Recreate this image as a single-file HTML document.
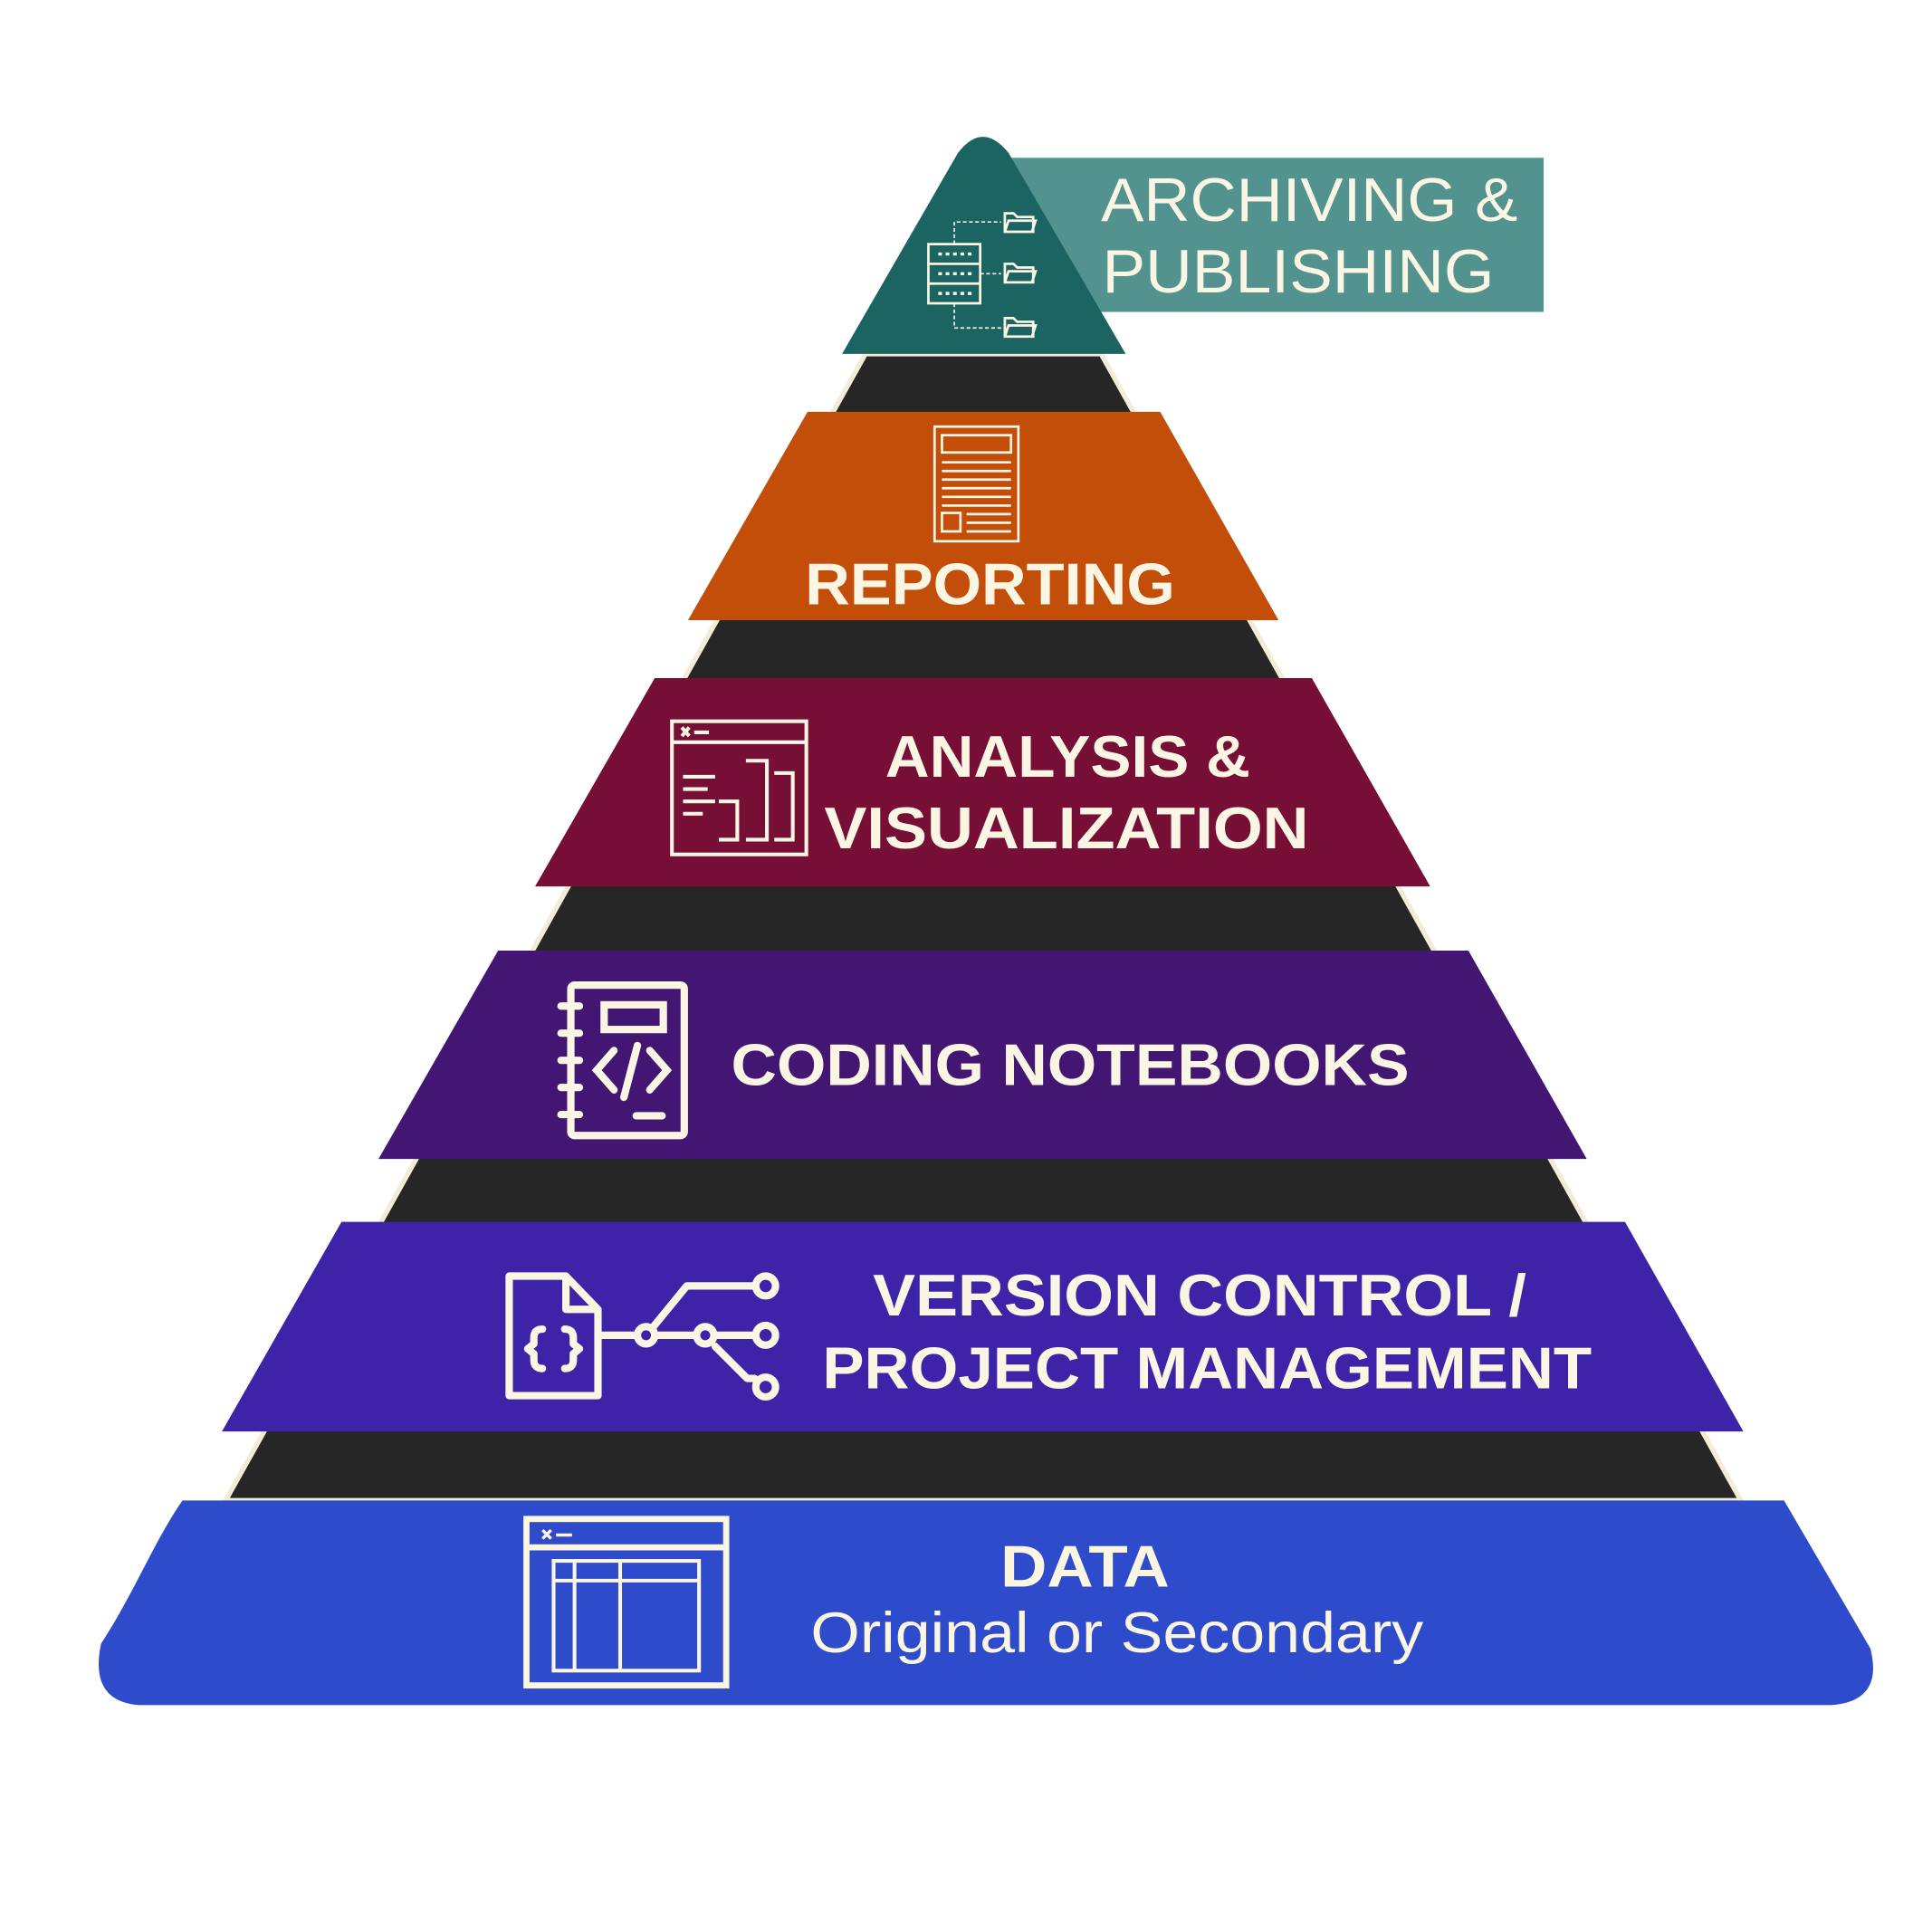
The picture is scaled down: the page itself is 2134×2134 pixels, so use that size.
<!DOCTYPE html>
<html><head><meta charset="utf-8"><style>html,body{margin:0;padding:0;background:#fff}svg{display:block}</style></head>
<body>
<svg width="2134" height="2134" viewBox="0 0 1567 1567" xmlns="http://www.w3.org/2000/svg">
<g font-family="Liberation Sans, sans-serif" fill="#fbf5e3">
<polygon points="702,287 893,287 1412,1217 183,1217" fill="#262626" stroke="#f3ecd6" stroke-width="4"/>
<rect x="820" y="128" width="432" height="125" fill="#52928f"/>
<path d="M683,287 L777,124 Q797,98 818,124 L913,287 Z" fill="#1c6462"/>
<text x="1062" y="179" font-size="50" text-anchor="middle" textLength="338" lengthAdjust="spacingAndGlyphs">ARCHIVING &amp;</text>
<text x="1053" y="237" font-size="50" text-anchor="middle" textLength="318" lengthAdjust="spacingAndGlyphs">PUBLISHING</text>
<g stroke="#fbf5e3" fill="none" stroke-width="2">
<rect x="753" y="198" width="42" height="48"/><line x1="753" y1="214" x2="795" y2="214"/><line x1="753" y1="230" x2="795" y2="230"/>
<path d="M761,206H788M761,222H788M761,238H788" stroke-dasharray="3,3" stroke-width="2.5"/>
<path d="M774,198 V180 H812 M795,222 H812 M774,246 V266 H812" stroke-dasharray="3,2" stroke-width="1.2"/>
<path d="M815,188 V173 H822 L825,176 H838 V188 Z M815,188 L818,179 H840 L837,188"/>
<path d="M815,229 V214 H822 L825,217 H838 V229 Z M815,229 L818,220 H840 L837,229"/>
<path d="M815,273 V258 H822 L825,261 H838 V273 Z M815,273 L818,264 H840 L837,273"/>
</g>
<polygon points="655,334 941,334 1037,503 558,503" fill="#c24e0a"/>
<g stroke="#fbf5e3" fill="none" stroke-width="2">
<rect x="758" y="346" width="68" height="93"/><rect x="764" y="353" width="56" height="14"/>
<path d="M764,375H820M764,382H820M764,389H820M764,396H820M764,403H820M764,410H820M784,417H820M784,424H820M784,431H820"/>
<rect x="764" y="416" width="15" height="15"/>
</g>
<text x="803" y="490" font-size="48" font-weight="bold" text-anchor="middle" textLength="300" lengthAdjust="spacingAndGlyphs">REPORTING</text>
<polygon points="531,550 1064,550 1160,719 434,719" fill="#760e36"/>
<g stroke="#fbf5e3" fill="none" stroke-width="3">
<rect x="545" y="585" width="109" height="108"/><line x1="545" y1="602" x2="654" y2="602"/>
<path d="M553,590l6,7m0-7l-6,7M563,594H575M554,630H580M554,640H574M554,650H580M554,660H570M583,650H598V681H583M605,617H622V681H605M628,627H643V681H628"/>
</g>
<text x="866" y="630" font-size="48" font-weight="bold" text-anchor="middle" textLength="296" lengthAdjust="spacingAndGlyphs">ANALYSIS &amp;</text>
<text x="865" y="688" font-size="48" font-weight="bold" text-anchor="middle" textLength="393" lengthAdjust="spacingAndGlyphs">VISUALIZATION</text>
<polygon points="404,771 1191,771 1287,940 307,940" fill="#431674"/>
<g stroke="#fbf5e3" fill="none" stroke-width="6" stroke-linecap="round">
<rect x="463" y="799" width="92" height="122" rx="3"/>
<path d="M455,816H470M455,838H470M455,860H470M455,882H470M455,904H470"/>
<rect x="490" y="815" width="48" height="20"/>
<path d="M498,852L484,868L498,884M527,852L541,868L527,884M517,848L506,890M516,905H537"/>
</g>
<text x="868" y="880" font-size="48" font-weight="bold" text-anchor="middle" textLength="550" lengthAdjust="spacingAndGlyphs">CODING NOTEBOOKS</text>
<polygon points="277,991 1318,991 1414,1161 180,1161" fill="#3c23a8"/>
<g stroke="#fbf5e3" fill="none" stroke-width="6" stroke-linecap="round" stroke-linejoin="round">
<path d="M413,1035H459L485,1062V1132H413Z M459,1035V1062H485"/>
<path d="M440,1078q-7,0-7,7v5l-5,4l5,4v5q0,7,7,7M458,1078q7,0,7,7v5l5,4l-5,4v5q0,7-7,7"/>
<path d="M485,1083H517M532,1083H563M530,1076L557,1043H612M579,1083H612M580,1092L606,1118H612"/>
<circle cx="524" cy="1083" r="7"/><circle cx="572" cy="1083" r="7"/><circle cx="621" cy="1043" r="8"/><circle cx="621" cy="1083" r="8"/><circle cx="621" cy="1125" r="8"/>
</g>
<text x="973" y="1067" font-size="48" font-weight="bold" text-anchor="middle" textLength="530" lengthAdjust="spacingAndGlyphs">VERSION CONTROL /</text>
<text x="979" y="1126" font-size="48" font-weight="bold" text-anchor="middle" textLength="624" lengthAdjust="spacingAndGlyphs">PROJECT MANAGEMENT</text>
<path d="M148,1217 H1447 L1517,1337 Q1528,1380 1485,1383 H113 Q72,1380 82,1333 C110,1290 125,1250 148,1217 Z" fill="#2e4bcb"/>
<g stroke="#fbf5e3" fill="none" stroke-width="5">
<rect x="427" y="1232" width="162" height="135"/><line x1="427" y1="1255" x2="589" y2="1255"/>
<rect x="449" y="1266" width="118" height="89" stroke-width="3"/>
<path d="M449,1282H567M466,1266V1355M503,1266V1355" stroke-width="3"/>
<path d="M440,1241l7,7m0-7l-7,7M451,1245H464" stroke-width="2.5"/>
</g>
<text x="880" y="1287" font-size="48" font-weight="bold" text-anchor="middle" textLength="137" lengthAdjust="spacingAndGlyphs">DATA</text>
<text x="906" y="1340" font-size="46" text-anchor="middle" textLength="497" lengthAdjust="spacingAndGlyphs">Original or Secondary</text>
</g>
</svg>
</body></html>
